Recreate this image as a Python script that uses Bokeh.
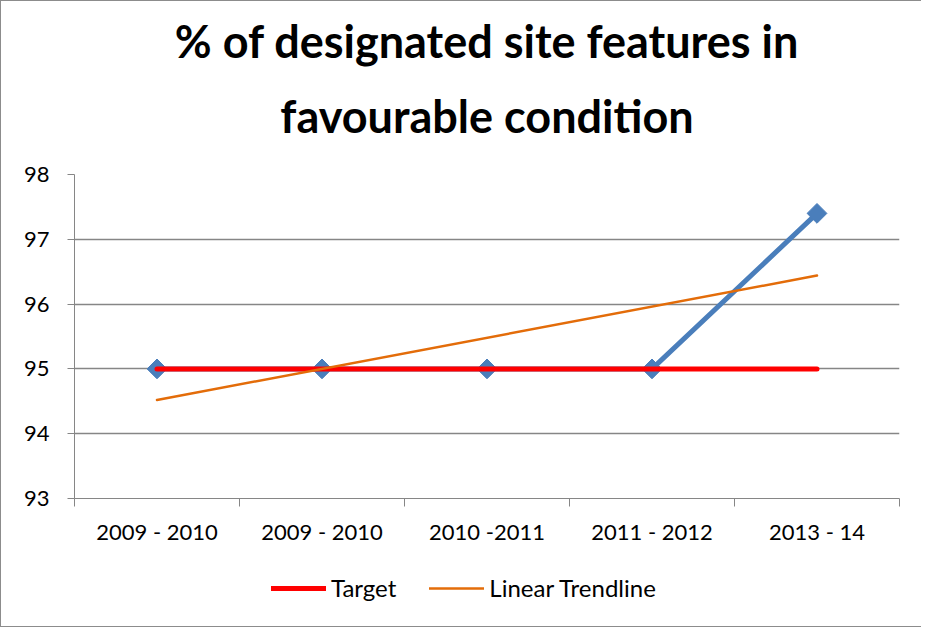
import math
from bokeh.plotting import figure
from bokeh.layouts import column
from bokeh.models import (ColumnDataSource, FixedTicker, Legend, LegendItem, Title, Range1d)
from bokeh.embed import file_html
from bokeh.resources import INLINE

# ---- data ----
categories = ["2009 - 2010", "2009 - 2010", "2010 -2011", "2011 - 2012", "2013 - 14"]
actual = [95, 95, 95, 95, 97.4]
target = [95, 95, 95, 95, 95]
trend_x = [0, 4]
trend_y = [94.52, 96.44]
y_ticks = [93, 94, 95, 96, 97, 98]
legend_labels = ["Target", "Linear Trendline"]
title_lines = ["% of designated site features in", "favourable condition"]

xpos = list(range(len(categories)))
src = ColumnDataSource(dict(x=xpos, actual=actual, target=target))
tsrc = ColumnDataSource(dict(x=trend_x, y=trend_y))

FONT = "Lato"
BLUE, RED, ORANGE, GRID = "#4a7ebb", "#ff0000", "#e36c09", "#868686"
W = 920

p = figure(width=W, height=560, output_backend="svg", toolbar_location=None,
           x_range=Range1d(-0.5, len(categories) - 0.5), y_range=Range1d(93, 98),
           min_border_left=73, min_border_right=W - 898, min_border_top=173, min_border_bottom=63)
p.outline_line_color = None
p.background_fill_color = "white"
p.border_fill_color = "white"

# titles (two lines, each centred)
p.title = Title(text=title_lines[0], align="center", text_font=FONT,
                text_font_size="45px", text_font_style="bold", text_color="black",
                standoff=-24)
p.add_layout(Title(text=title_lines[1], align="center", text_font=FONT,
                   text_font_size="45px", text_font_style="bold", text_color="black",
                   standoff=63), "above")

# axes
p.yaxis.ticker = FixedTicker(ticks=y_ticks)
p.yaxis.axis_line_color = GRID
p.yaxis.major_tick_line_color = GRID
p.yaxis.major_tick_out = 7
p.yaxis.major_tick_in = 0
p.yaxis.minor_tick_line_color = None
p.yaxis.major_label_text_font = FONT
p.yaxis.major_label_text_font_size = "22px"
p.yaxis.major_label_text_color = "black"
p.yaxis.major_label_standoff = 18

p.xaxis.ticker = FixedTicker(ticks=xpos, minor_ticks=[i - 0.5 for i in range(len(categories) + 1)])
p.xaxis.major_label_overrides = {i: c for i, c in enumerate(categories)}
p.xaxis.axis_line_color = GRID
p.xaxis.major_tick_line_color = None
p.xaxis.major_tick_out = 0
p.xaxis.major_tick_in = 0
p.xaxis.minor_tick_line_color = GRID
p.xaxis.minor_tick_out = 8
p.xaxis.minor_tick_in = 0
p.xaxis.major_label_text_font = FONT
p.xaxis.major_label_text_font_size = "22px"
p.xaxis.major_label_text_color = "black"
p.xaxis.major_label_standoff = 11

p.xgrid.grid_line_color = None
p.ygrid.ticker = FixedTicker(ticks=y_ticks)
p.ygrid.grid_line_color = GRID
p.ygrid.grid_line_width = 1.3

# series
p.line("x", "actual", source=src, line_color=BLUE, line_width=5)
p.scatter("x", "actual", source=src, marker="square", size=14, angle=math.pi / 4,
          fill_color=BLUE, line_color=BLUE)
p.line("x", "target", source=src, line_color=RED, line_width=5, line_cap="round")
p.line("x", "y", source=tsrc, line_color=ORANGE, line_width=2.5, line_cap="round")

# legend strip (separate figure below, same line styles, no visible data)
lg = figure(width=W, height=65, output_backend="svg", toolbar_location=None,
            min_border=0, x_range=Range1d(0, 1), y_range=Range1d(0, 1))
lg.axis.visible = False
lg.grid.visible = False
lg.outline_line_color = None
lg.border_fill_color = "white"
blank = ColumnDataSource(dict(x=[float("nan")], y=[float("nan")]))
lr1 = lg.line("x", "y", source=blank, line_color=RED, line_width=5, line_cap="round")
lr2 = lg.line("x", "y", source=blank, line_color=ORANGE, line_width=2.5, line_cap="round")
legend = Legend(items=[LegendItem(label=legend_labels[0], renderers=[lr1]),
                       LegendItem(label=legend_labels[1], renderers=[lr2])],
                orientation="horizontal", location=(197, 24),
                label_text_font=FONT, label_text_font_size="24px", label_text_color="black",
                glyph_width=55, glyph_height=20, label_standoff=5, spacing=33,
                border_line_color=None, background_fill_alpha=0, padding=4, margin=0)
lg.add_layout(legend, "center")

layout = column(p, lg, spacing=0)
layout.styles = {"border": "1px solid #8c8c8c", "border-right": "none"}

open("out.html", "w").write(file_html(layout, INLINE))
